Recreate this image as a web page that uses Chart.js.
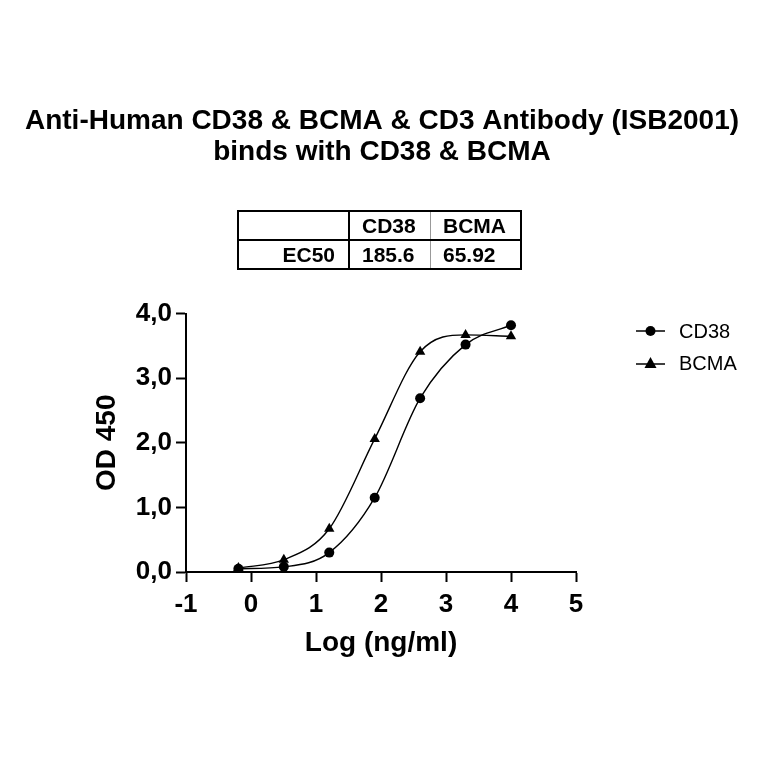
<!DOCTYPE html>
<html>
<head>
<meta charset="utf-8">
<script src="https://cdn.jsdelivr.net/npm/chart.js@4.4.1/dist/chart.umd.min.js"></script>
<style>
  html, body { margin: 0; padding: 0; background: #fff; }
  #wrap { position: relative; width: 764px; height: 764px; overflow: hidden; }
  #wrap canvas { position: absolute; left: 0; top: 0; }
  #ec50 { position: absolute; left: 237px; top: 210px; border-collapse: collapse;
          font: bold 21px "Liberation Sans", Arial, sans-serif; color: #000; }
  #ec50 td { height: 27px; padding: 0; border: 2px solid #000; line-height: 27px; }
  #ec50 td.c0 { width: 96px; text-align: right; padding-right: 13px; }
  #ec50 td.c1 { width: 68px; text-align: left; padding-left: 12px; border-right: 1px solid #999; }
  #ec50 td.c2 { width: 77px; text-align: left; padding-left: 12px; border-left: 1px solid #999; }
  .leg { position: absolute; left: 636px; height: 24px; display: flex; align-items: center;
         font: 20px "Liberation Sans", Arial, sans-serif; color: #000; }
  .leg svg { width: 29px; height: 16px; margin-right: 14px; }
</style>
</head>
<body>
<div id="wrap">
  <canvas id="c" width="764" height="764"></canvas>
  <table id="ec50">
    <tr><td class="c0"></td><td class="c1" id="h1"></td><td class="c2" id="h2"></td></tr>
    <tr><td class="c0" id="rl"></td><td class="c1" id="v1"></td><td class="c2" id="v2"></td></tr>
  </table>
  <div class="leg" style="top:319px">
    <svg viewBox="0 0 29 16"><line x1="0" y1="8" x2="29" y2="8" stroke="#000" stroke-width="1.5"/><circle cx="14.5" cy="8" r="5" fill="#000"/></svg>
    <span id="l1"></span>
  </div>
  <div class="leg" style="top:351px">
    <svg viewBox="0 0 29 16"><line x1="0" y1="9" x2="29" y2="9" stroke="#000" stroke-width="1.5"/><polygon points="14.5,2 20.5,13 8.5,13" fill="#000"/></svg>
    <span id="l2"></span>
  </div>
</div>
<script>
// ---- data ----
const titleLines = ["Anti-Human CD38 & BCMA & CD3 Antibody (ISB2001)", "binds with CD38 & BCMA"];
const seriesNames = ["CD38", "BCMA"];
const ec50RowLabel = "EC50";
const ec50Values = ["185.6", "65.92"];
const logConc = [-0.194, 0.505, 1.204, 1.903, 2.602, 3.301, 4.0];
const cd38OD = [0.05, 0.08, 0.30, 1.15, 2.69, 3.52, 3.82];
const bcmaOD = [0.06, 0.19, 0.67, 2.06, 3.41, 3.67, 3.65];
const xTicks = [-1, 0, 1, 2, 3, 4, 5];
const yTicks = [0, 1, 2, 3, 4];
const xTitle = "Log (ng/ml)";
const yTitle = "OD 450";

// ---- html table / legend text ----
document.getElementById('h1').textContent = seriesNames[0];
document.getElementById('h2').textContent = seriesNames[1];
document.getElementById('rl').textContent = ec50RowLabel;
document.getElementById('v1').textContent = ec50Values[0];
document.getElementById('v2').textContent = ec50Values[1];
document.getElementById('l1').textContent = seriesNames[0];
document.getElementById('l2').textContent = seriesNames[1];

const FF = '"Liberation Sans", Arial, sans-serif';
const toPts = ys => logConc.map((x, i) => ({ x: x, y: ys[i] }));

new Chart(document.getElementById('c'), {
  type: 'line',
  data: {
    datasets: [
      { label: seriesNames[0], data: toPts(cd38OD), borderColor: '#000', backgroundColor: '#000',
        borderWidth: 1.4, pointStyle: 'circle', pointRadius: 5, pointBorderWidth: 0,
        cubicInterpolationMode: 'monotone', fill: false, yAxisID: 'y' },
      { label: seriesNames[1], data: toPts(bcmaOD), borderColor: '#000', backgroundColor: '#000',
        borderWidth: 1.4, pointStyle: 'triangle', pointRadius: 6, pointBorderWidth: 0,
        cubicInterpolationMode: 'monotone', fill: false, yAxisID: 'y' }
    ]
  },
  options: {
    responsive: false,
    animation: false,
    devicePixelRatio: 1,
    layout: { padding: { left: 0, right: 0, top: 0, bottom: 92 } },
    plugins: {
      legend: { display: false },
      tooltip: { enabled: false },
      title: {
        display: true, text: titleLines, color: '#000',
        font: { family: FF, size: 28, weight: 'bold', lineHeight: 1.1 },
        padding: { top: 106, bottom: 146 }
      }
    },
    scales: {
      x: {
        type: 'linear', min: -1, max: 5,
        afterBuildTicks: s => { s.ticks = xTicks.map(v => ({ value: v })); },
        afterFit: s => { s.height = 100; },
        border: { display: true, color: '#000', width: 2 },
        grid: { drawOnChartArea: false, drawTicks: true, tickLength: 10, tickWidth: 2, tickColor: '#000', color: '#000' },
        ticks: { color: '#000', padding: 7, font: { family: FF, size: 26, weight: 'bold' }, maxRotation: 0 },
        title: { display: true, text: xTitle, color: '#000', font: { family: FF, size: 28, weight: 'bold', lineHeight: 1.2 },
                 padding: { top: 0, bottom: 12 } }
      },
      y: {
        type: 'linear', min: 0, max: 4, position: 'left',
        afterBuildTicks: s => { s.ticks = yTicks.map(v => ({ value: v })); },
        afterFit: s => { s.width = 186; },
        border: { display: true, color: '#000', width: 2 },
        grid: { drawOnChartArea: false, drawTicks: true, tickLength: 10, tickWidth: 2, tickColor: '#000', color: '#000' },
        ticks: { color: '#000', padding: 4, font: { family: FF, size: 26, weight: 'bold' },
                 callback: v => v.toFixed(1).replace('.', ',') },
        title: { display: true, text: yTitle, color: '#000', font: { family: FF, size: 28, weight: 'bold', lineHeight: 1.2 },
                 padding: { top: 90, bottom: 0 } }
      },
      yRight: {
        type: 'linear', min: 0, max: 4, position: 'right', display: true,
        afterFit: s => { s.width = 188; },
        border: { display: false },
        grid: { display: false, drawTicks: false },
        ticks: { display: false },
        title: { display: false }
      }
    }
  }
});
</script>
</body>
</html>
